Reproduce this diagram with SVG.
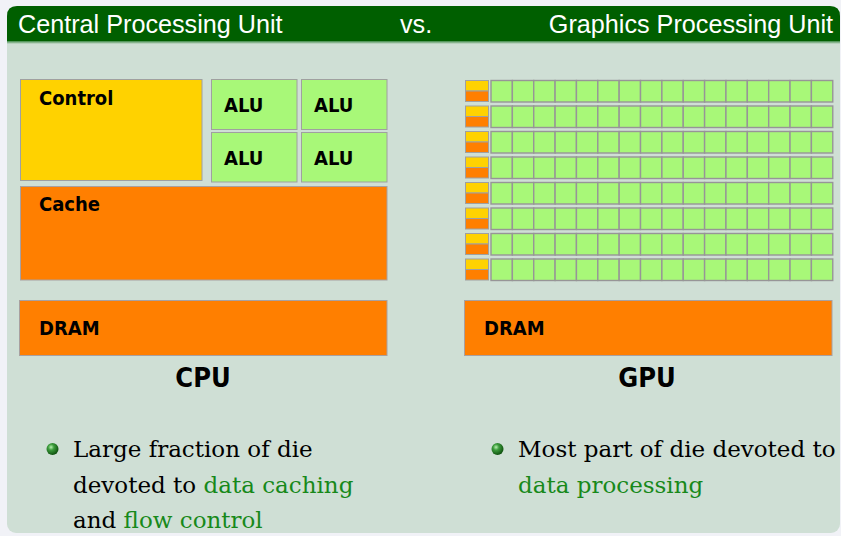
<svg xmlns="http://www.w3.org/2000/svg" xmlns:xlink="http://www.w3.org/1999/xlink" width="841" height="536" viewBox="0 0 841 536">
  <style>
    .hdr { font-family: 'Liberation Sans', Arial, sans-serif; font-size: 25.2px; fill: #ffffff; }
    .lbl { font-family: 'DejaVu Sans Condensed', 'DejaVu Sans', sans-serif; font-stretch: condensed; font-weight: bold; font-size: 20px; fill: #000000; }
    .big { font-family: 'DejaVu Sans Condensed', 'DejaVu Sans', sans-serif; font-stretch: condensed; font-weight: bold; font-size: 27px; fill: #000000; }
    .txt { font-family: 'DejaVu Serif', 'Liberation Serif', serif; font-size: 23px; fill: #000000; }
    .hl { fill: #17891a; }
    .ctl { fill: #ffd200; stroke: #a0a0a0; stroke-width: 1; }
    .alu { fill: #a8f878; stroke: #a0a0a0; stroke-width: 1; }
    .mem { fill: #ff7f00; stroke: #a8a0a0; stroke-width: 1; }
    .cell { fill: #a8f878; stroke: #979597; stroke-width: 1.4; }
  </style>
  <defs>
    <radialGradient id="ball" cx="0.38" cy="0.35" r="0.7">
      <stop offset="0" stop-color="#b8f0b0"/>
      <stop offset="0.35" stop-color="#3c9c3c"/>
      <stop offset="1" stop-color="#0a4a0a"/>
    </radialGradient>
    <linearGradient id="hdrEdge" x1="0" y1="0" x2="0" y2="1">
      <stop offset="0" stop-color="#3d8a45"/>
      <stop offset="1" stop-color="#cfdfd5"/>
    </linearGradient>
    <!-- one GPU row: control/cache pair plus 16 ALU cells -->
    <g id="gpuRow">
      <rect x="465.5" y="0.5" width="23" height="10.5" fill="#ffd200" stroke="#a0a0a0"/>
      <rect x="465.5" y="11" width="23" height="10.5" fill="#ff7f00" stroke="#a0a0a0"/>
      <rect class="cell" x="491" y="0.5" width="21.36" height="21.5"/>
      <rect class="cell" x="512.36" y="0.5" width="21.36" height="21.5"/>
      <rect class="cell" x="533.72" y="0.5" width="21.36" height="21.5"/>
      <rect class="cell" x="555.08" y="0.5" width="21.36" height="21.5"/>
      <rect class="cell" x="576.44" y="0.5" width="21.36" height="21.5"/>
      <rect class="cell" x="597.8" y="0.5" width="21.36" height="21.5"/>
      <rect class="cell" x="619.16" y="0.5" width="21.36" height="21.5"/>
      <rect class="cell" x="640.52" y="0.5" width="21.36" height="21.5"/>
      <rect class="cell" x="661.88" y="0.5" width="21.36" height="21.5"/>
      <rect class="cell" x="683.24" y="0.5" width="21.36" height="21.5"/>
      <rect class="cell" x="704.6" y="0.5" width="21.36" height="21.5"/>
      <rect class="cell" x="725.96" y="0.5" width="21.36" height="21.5"/>
      <rect class="cell" x="747.32" y="0.5" width="21.36" height="21.5"/>
      <rect class="cell" x="768.68" y="0.5" width="21.36" height="21.5"/>
      <rect class="cell" x="790.04" y="0.5" width="21.36" height="21.5"/>
      <rect class="cell" x="811.4" y="0.5" width="21.36" height="21.5"/>
    </g>
  </defs>

  <!-- page and slide block -->
  <rect x="0" y="0" width="841" height="536" fill="#f1f2f7"/>
  <rect x="7" y="6" width="833" height="527" rx="9" fill="#cfdfd5"/>
  <path d="M7,42 V16 Q7,6 17,6 H830 Q840,6 840,16 V42 Z" fill="#005f00"/>
  <rect x="7" y="41" width="833" height="3" fill="url(#hdrEdge)"/>

  <g id="title">
    <text class="hdr" x="18" y="33">Central Processing Unit</text>
    <text class="hdr" x="400" y="33">vs.</text>
    <text class="hdr" x="833" y="33" text-anchor="end">Graphics Processing Unit</text>
  </g>

  <!-- CPU die -->
  <g id="cpu-control">
    <rect class="ctl" x="20.5" y="79.5" width="181.5" height="101"/>
    <text class="lbl" x="39" y="105">Control</text>
  </g>
  <g id="cpu-alu-1">
    <rect class="alu" x="211.5" y="79.5" width="85.5" height="50"/>
    <text class="lbl" x="224" y="112">ALU</text>
  </g>
  <g id="cpu-alu-2">
    <rect class="alu" x="301.5" y="79.5" width="85.5" height="50"/>
    <text class="lbl" x="314" y="112">ALU</text>
  </g>
  <g id="cpu-alu-3">
    <rect class="alu" x="211.5" y="132.5" width="85.5" height="49.5"/>
    <text class="lbl" x="224" y="165">ALU</text>
  </g>
  <g id="cpu-alu-4">
    <rect class="alu" x="301.5" y="132.5" width="85.5" height="49.5"/>
    <text class="lbl" x="314" y="165">ALU</text>
  </g>
  <g id="cpu-cache">
    <rect class="mem" x="20.5" y="186.5" width="366.5" height="93.5" stroke="#c09070"/>
    <text class="lbl" x="39" y="211">Cache</text>
  </g>
  <g id="cpu-dram">
    <rect class="mem" x="19.5" y="300.5" width="367.5" height="55"/>
    <text class="lbl" x="39" y="335">DRAM</text>
  </g>
  <g id="cpu-label">
    <text class="big" x="203" y="387" text-anchor="middle">CPU</text>
  </g>

  <!-- GPU die: 8 rows of small control/cache + ALU arrays -->
  <g id="gpu-array">
    <use xlink:href="#gpuRow" y="80"/>
    <use xlink:href="#gpuRow" y="105.5"/>
    <use xlink:href="#gpuRow" y="131"/>
    <use xlink:href="#gpuRow" y="156.5"/>
    <use xlink:href="#gpuRow" y="182"/>
    <use xlink:href="#gpuRow" y="207.5"/>
    <use xlink:href="#gpuRow" y="233"/>
    <use xlink:href="#gpuRow" y="258.5"/>
  </g>
  <g id="gpu-dram">
    <rect class="mem" x="464.5" y="300.5" width="367.5" height="55"/>
    <text class="lbl" x="484" y="335">DRAM</text>
  </g>
  <g id="gpu-label">
    <text class="big" x="647" y="387" text-anchor="middle">GPU</text>
  </g>

  <!-- bullet notes -->
  <g id="cpu-note">
    <circle cx="52.5" cy="449" r="6" fill="url(#ball)"/>
    <text class="txt" x="73" y="457">Large fraction of die</text>
    <text class="txt" x="73" y="493">devoted to <tspan class="hl">data caching</tspan></text>
    <text class="txt" x="73" y="528">and <tspan class="hl">flow control</tspan></text>
  </g>
  <g id="gpu-note">
    <circle cx="497.5" cy="449" r="6" fill="url(#ball)"/>
    <text class="txt" x="518" y="457">Most part of die devoted to</text>
    <text class="txt hl" x="518" y="493">data processing</text>
  </g>
</svg>
